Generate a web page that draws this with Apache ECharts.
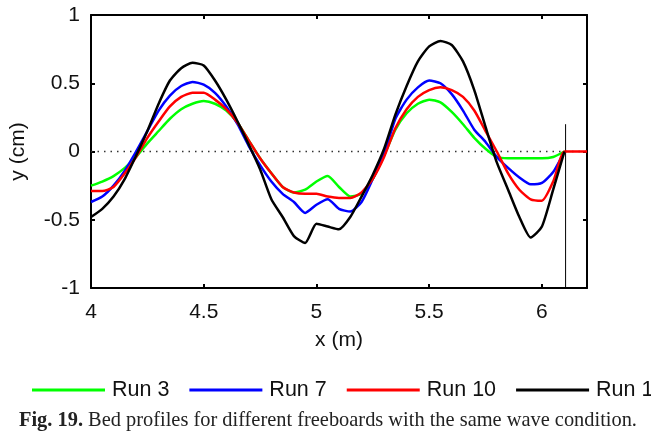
<!DOCTYPE html>
<html>
<head>
<meta charset="utf-8">
<script src="https://cdn.jsdelivr.net/npm/echarts@6/dist/echarts.min.js"></script>
<style>
  html, body { margin: 0; padding: 0; background: #fff; }
  #chart { width: 651px; height: 434px; }
</style>
</head>
<body>
<div id="chart"></div>
<script>
// x positions (m) shared by all runs
const xs = [4.00, 4.05, 4.10, 4.15, 4.20, 4.25, 4.30, 4.35, 4.40, 4.45,
            4.50, 4.55, 4.60, 4.65, 4.70, 4.75, 4.80, 4.85, 4.90, 4.95,
            5.00, 5.05, 5.10, 5.15, 5.20, 5.25, 5.30, 5.35, 5.40, 5.45,
            5.50, 5.55, 5.60, 5.65, 5.70, 5.75, 5.80, 5.85, 5.90, 5.95,
            6.00, 6.05, 6.10, 6.15, 6.20];

// bed level y (cm) per run
const run3 = [-0.25, -0.22, -0.18, -0.12, -0.04, 0.06, 0.15, 0.24, 0.31, 0.35,
              0.37, 0.35, 0.30, 0.21, 0.08, -0.05, -0.16, -0.26, -0.30, -0.28,
              -0.22, -0.18, -0.26, -0.33, -0.31, -0.20, -0.03, 0.16, 0.28, 0.35,
              0.38, 0.36, 0.29, 0.20, 0.10, 0.02, -0.04, -0.05, -0.05, -0.05,
              -0.05, -0.04, 0.00, null, null];
const run7 = [-0.37, -0.33, -0.25, -0.14, 0.00, 0.15, 0.30, 0.41, 0.48, 0.51,
              0.49, 0.43, 0.33, 0.20, 0.04, -0.10, -0.22, -0.31, -0.37, -0.45,
              -0.39, -0.35, -0.42, -0.44, -0.37, -0.20, -0.02, 0.24, 0.38, 0.47,
              0.52, 0.50, 0.42, 0.30, 0.16, 0.07, -0.04, -0.12, -0.19, -0.24,
              -0.23, -0.15, 0.00, null, null];
const run10 = [-0.29, -0.29, -0.26, -0.16, -0.04, 0.10, 0.22, 0.33, 0.40, 0.43,
               0.43, 0.38, 0.31, 0.21, 0.08, -0.05, -0.16, -0.26, -0.30, -0.31,
               -0.31, -0.33, -0.34, -0.34, -0.30, -0.20, -0.04, 0.17, 0.31, 0.40,
               0.45, 0.47, 0.45, 0.40, 0.30, 0.15, 0.00, -0.16, -0.28, -0.35,
               -0.36, -0.22, 0.00, 0.00, 0.00];
const run1 = [-0.48, -0.42, -0.33, -0.20, -0.03, 0.15, 0.35, 0.52, 0.61, 0.65,
              0.63, 0.52, 0.38, 0.22, 0.05, -0.13, -0.35, -0.48, -0.62, -0.67,
              -0.53, -0.55, -0.57, -0.48, -0.33, -0.17, 0.02, 0.27, 0.48, 0.66,
              0.77, 0.81, 0.78, 0.66, 0.45, 0.18, -0.08, -0.28, -0.48, -0.63,
              -0.55, -0.28, 0.00, null, null];

// dotted still-bed line and structure wall
const zeroX = [4.0, 6.2];
const zeroY = [0, 0];
const wallX = [6.105, 6.105];
const wallY = [0.2, -1];

const names = ["Run 3", "Run 7", "Run 10", "Run 1"];
const colors = ["#00ff00", "#0000ff", "#ff0000", "#000000"];
const runs = [run3, run7, run10, run1];

const xTicks = [4, 4.5, 5, 5.5, 6];
const yTicks = [-1, -0.5, 0, 0.5, 1];

const pairs = (ax, ay) =>
  ax.map((x, i) => [x, ay[i]]).filter(p => p[1] !== null);

const font = "Liberation Sans, Arial, sans-serif";

const chart = echarts.init(document.getElementById("chart"));

const axisCommon = {
  axisLine: { show: true, onZero: false, lineStyle: { color: "#000", width: 2 } },
  axisTick: { show: true, inside: true, length: 4, lineStyle: { color: "#000", width: 2 } },
  splitLine: { show: false },
};

const runSeries = runs.map((r, i) => ({
  name: names[i],
  type: "line",
  data: pairs(xs, r),
  showSymbol: false,
  smooth: 0.2,
  lineStyle: { color: colors[i], width: 2.5 },
  itemStyle: { color: colors[i] },
  z: 3 + i,
}));

chart.setOption({
  animation: false,
  grid: { left: 91, right: 64, top: 15, bottom: 146 },
  title: {
    text: "{b|Fig. 19.} Bed profiles for different freeboards with the same wave condition.",
    left: 14,
    top: 406,
    textStyle: {
      fontFamily: "Liberation Serif, serif",
      fontSize: 20.4,
      fontWeight: "normal",
      color: "#222",
      rich: {
        b: { fontFamily: "Liberation Serif, serif", fontSize: 20.4, fontWeight: "bold", color: "#222" },
      },
    },
  },
  legend: {
    data: names,
    left: 27,
    top: 374,
    width: 900,
    itemWidth: 73,
    itemHeight: 14,
    itemGap: 20,
    icon: "path://M0,6 L73,6 L73,9 L0,9 Z",
    textStyle: { fontFamily: font, fontSize: 21.5, color: "#111", padding: [0, 0, 0, 2] },
  },
  xAxis: [
    {
      ...axisCommon,
      type: "value",
      min: 4,
      max: 6.2,
      interval: 0.5,
      name: "x (m)",
      nameLocation: "middle",
      nameGap: 42,
      nameTextStyle: { fontFamily: font, fontSize: 21, color: "#111" },
      axisLabel: {
        fontFamily: font,
        fontSize: 21,
        color: "#111",
        margin: 14,
        formatter: v => (xTicks.includes(+v.toFixed(2)) ? String(+v.toFixed(2)) : ""),
      },
    },
    {
      ...axisCommon,
      type: "value",
      position: "top",
      min: 4,
      max: 6.2,
      interval: 0.5,
      axisLabel: { show: false },
    },
  ],
  yAxis: [
    {
      ...axisCommon,
      type: "value",
      min: -1,
      max: 1,
      interval: 0.5,
      name: "y (cm)",
      nameLocation: "middle",
      nameGap: 62,
      nameTextStyle: { fontFamily: font, fontSize: 21, color: "#111" },
      axisLabel: {
        fontFamily: font,
        fontSize: 21,
        color: "#111",
        margin: 11,
        formatter: v => (yTicks.includes(v) ? String(v) : ""),
      },
    },
    {
      ...axisCommon,
      type: "value",
      position: "right",
      min: -1,
      max: 1,
      interval: 0.5,
      axisLabel: { show: false },
    },
  ],
  series: [
    {
      name: "zero",
      type: "line",
      data: pairs(zeroX, zeroY),
      showSymbol: false,
      silent: true,
      lineStyle: { color: "#333", width: 1.5, type: [1.5, 5] },
      z: 1,
    },
    {
      name: "wall",
      type: "line",
      data: pairs(wallX, wallY),
      showSymbol: false,
      silent: true,
      lineStyle: { color: "#000", width: 1 },
      z: 2,
    },
    ...runSeries,
  ],
});
</script>
</body>
</html>
